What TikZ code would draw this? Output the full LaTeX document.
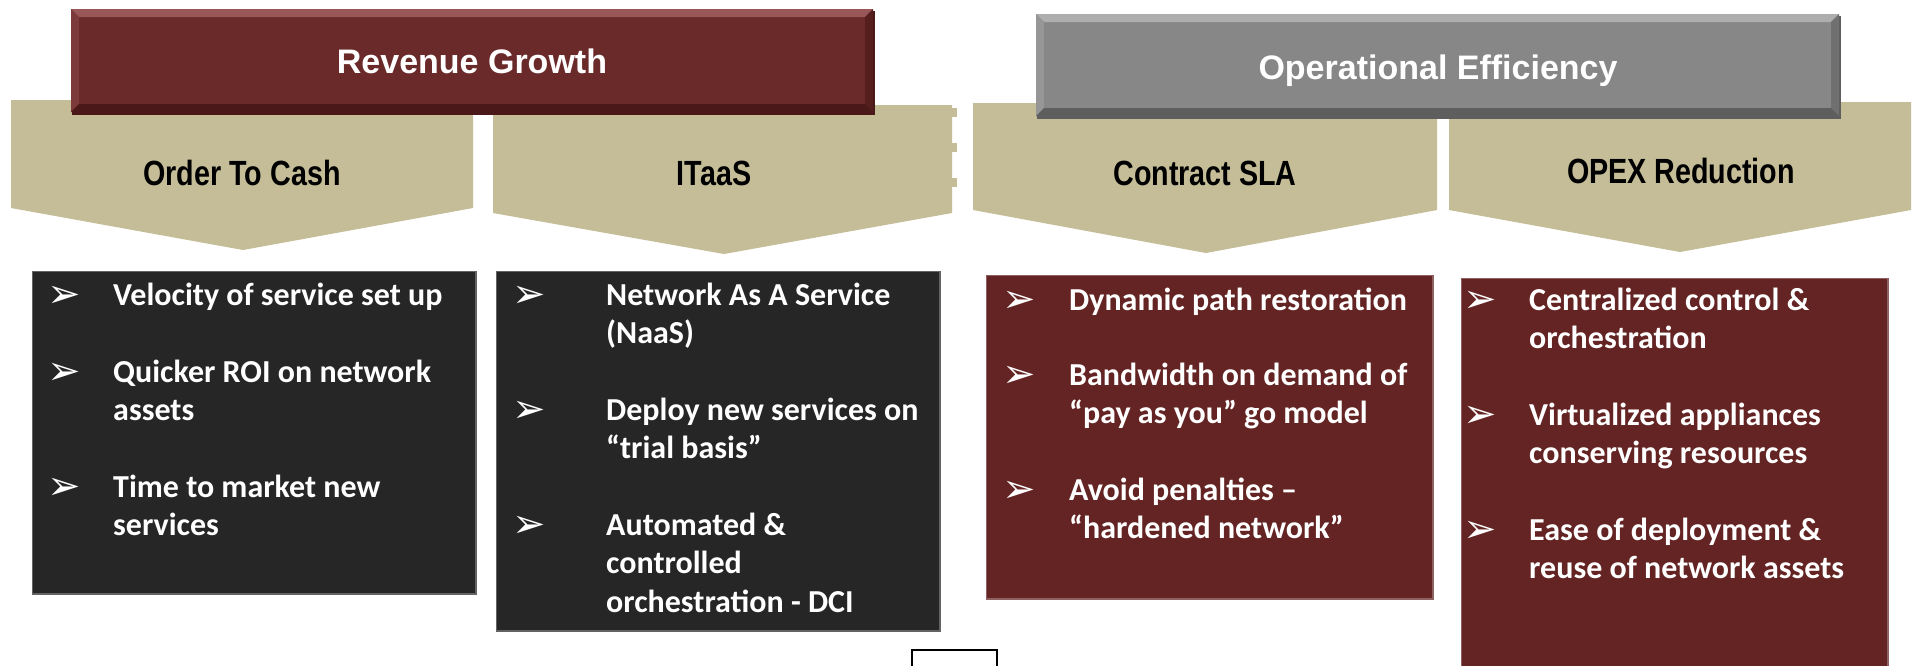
\documentclass[tikz,border=0pt]{standalone}
\usepackage{fontspec}
\setmainfont{Carlito}
\newfontfamily\hdrfont{Liberation Sans}
\newfontfamily\narrowfont[FakeStretch=0.82]{Liberation Sans}
\newfontfamily\dingfont{DejaVu Sans}
\definecolor{tan}{HTML}{C4BD97}
\definecolor{darkbox}{HTML}{262626}
\definecolor{maroonbox}{HTML}{632423}
\definecolor{revmain}{HTML}{6B2A2A}
\definecolor{revtop}{HTML}{9A5757}
\definecolor{revleft}{HTML}{7D3A3A}
\definecolor{revdark}{HTML}{561F1F}
\definecolor{revbot}{HTML}{4A1818}
\definecolor{opmain}{HTML}{878787}
\definecolor{optop}{HTML}{AEAEAE}
\definecolor{opleft}{HTML}{969696}
\definecolor{opdark}{HTML}{707070}
\definecolor{opbot}{HTML}{5E5E5E}
\newcommand\tline[4]{\node[btxt] (#1) at (#2,#3) {#4};}
\newcommand\bmark[3]{\node[bmk] (#1) at (#2,#3+2) {➢};}
\begin{document}
\begin{tikzpicture}[x=1pt,y=-1pt,
  btxt/.style={anchor=base west, inner sep=0pt, text=white,
    font={\fontsize{32}{38}\selectfont\bfseries}},
  bmk/.style={anchor=base west, inner sep=0pt, text=white,
    font={\dingfont\fontsize{40}{44}\selectfont}},
  hdr/.style={anchor=base, inner sep=0pt, text=white,
    font={\hdrfont\fontsize{34}{40}\selectfont\bfseries}},
  chv/.style={anchor=base, inner sep=0pt, text=black,
    font={\narrowfont\fontsize{35}{40}\selectfont\bfseries}}]
\useasboundingbox (0,0) rectangle (1917,665);
\fill[white] (0,0) rectangle (1917,665);

% chevrons
\fill[tan] (11,100) -- (473,100) -- (473,208) -- (243,250) -- (11,208) -- cycle;
\fill[tan] (493,105) -- (952,105) -- (952,213) -- (724,254) -- (493,213) -- cycle;
\fill[tan] (952,108) rectangle (957,117);
\fill[tan] (952,143) rectangle (957,152);
\fill[tan] (952,178) rectangle (957,187);
\fill[tan] (973,103) -- (1437,103) -- (1437,210) -- (1206,253) -- (973,210) -- cycle;
\fill[tan] (1449,102) -- (1911,102) -- (1911,210) -- (1680,252) -- (1449,210) -- cycle;

% header: Revenue Growth
\fill[revbot] (72,11) rectangle (875,115);
\fill[revmain] (71,9) rectangle (873,112);
\fill[revtop] (71,9) -- (873,9) -- (865,17) -- (79,17) -- cycle;
\fill[revleft] (71,9) -- (79,17) -- (79,104) -- (71,112) -- cycle;
\fill[revdark] (873,9) -- (873,112) -- (865,104) -- (865,17) -- cycle;
\fill[revbot] (71,112) -- (873,112) -- (865,104) -- (79,104) -- cycle;
\node[hdr] (rev) at (472,73) {Revenue Growth};

% header: Operational Efficiency
\fill[opbot] (1037,16) rectangle (1841,119);
\fill[opmain] (1036,14) rectangle (1839,116);
\fill[optop] (1036,14) -- (1839,14) -- (1831,22) -- (1044,22) -- cycle;
\fill[opleft] (1036,14) -- (1044,22) -- (1044,108) -- (1036,116) -- cycle;
\fill[opdark] (1839,14) -- (1839,116) -- (1831,108) -- (1831,22) -- cycle;
\fill[opbot] (1036,116) -- (1839,116) -- (1831,108) -- (1044,108) -- cycle;
\node[hdr] (op) at (1438,79) {Operational Efficiency};

% chevron labels
\node[chv] (otc) at (242,185) {Order To Cash};
\node[chv] (itaas) at (714,185) {ITaaS};
\node[chv] (sla) at (1205,185) {Contract SLA};
\node[chv] (opex) at (1681,183) {OPEX Reduction};

% text boxes (soft edge, then fill)
\draw[line width=3pt, darkbox!72!white] (33,272) rectangle (475,593);
\fill[darkbox] (33,272) rectangle (475,593);
\draw[line width=3pt, darkbox!72!white] (497,272) rectangle (939,630);
\fill[darkbox] (497,272) rectangle (939,630);
\draw[line width=3pt, maroonbox!72!white] (987,276) rectangle (1432,598);
\fill[maroonbox] (987,276) rectangle (1432,598);
\draw[line width=3pt, maroonbox!72!white] (1462,279) rectangle (1887,670);
\fill[maroonbox] (1462,279) rectangle (1887,670);

% small white rectangle at the bottom
\coordinate (wa) at (912,668);
\coordinate (wb) at (912,650);
\coordinate (wc) at (997,650);
\coordinate (wd) at (997,668);
\draw[line width=2pt, black] (wa) -- (wb) -- (wc) -- (wd);

% box 1
\bmark{m11}{47}{305}
\bmark{m12}{47}{382}
\bmark{m13}{47}{497}
\tline{t11}{113}{305}{Velocity of service set up}
\tline{t12}{113}{382}{Quicker ROI on network}
\tline{t13}{113}{420}{assets}
\tline{t14}{113}{497}{Time to market new}
\tline{t15}{113}{535}{services}

% box 2
\bmark{m21}{512}{305}
\bmark{m22}{512}{420}
\bmark{m23}{512}{535}
\tline{t21}{606}{305}{Network As A Service}
\tline{t22}{606}{343}{(NaaS)}
\tline{t23}{606}{420}{Deploy new services on}
\tline{t24}{606}{458}{“trial basis”}
\tline{t25}{606}{535}{Automated \&}
\tline{t26}{606}{573}{controlled}
\tline{t27}{606}{612}{orchestration - DCI}

% box 3
\bmark{m31}{1002}{310}
\bmark{m32}{1002}{385}
\bmark{m33}{1002}{500}
\tline{t31}{1069}{310}{Dynamic path restoration}
\tline{t32}{1069}{385}{Bandwidth on demand of}
\tline{t33}{1069}{423}{“pay as you” go model}
\tline{t34}{1069}{500}{Avoid penalties –}
\tline{t35}{1069}{538}{“hardened network”}

% box 4
\bmark{m41}{1463}{310}
\bmark{m42}{1463}{425}
\bmark{m43}{1463}{540}
\tline{t41}{1529}{310}{Centralized control \&}
\tline{t42}{1529}{348}{orchestration}
\tline{t43}{1529}{425}{Virtualized appliances}
\tline{t44}{1529}{463}{conserving resources}
\tline{t45}{1529}{540}{Ease of deployment \&}
\tline{t46}{1529}{578}{reuse of network assets}
\end{tikzpicture}
\end{document}
